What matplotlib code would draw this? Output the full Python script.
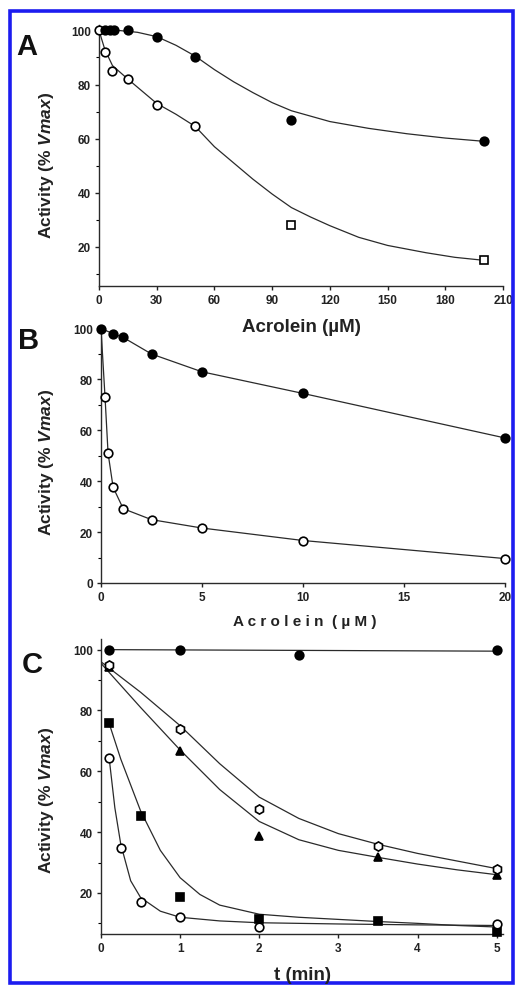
import matplotlib
matplotlib.use('Agg')
import matplotlib.pyplot as plt
from matplotlib.patches import Rectangle
from matplotlib.ticker import MultipleLocator

plt.rcParams['font.family'] = ['Liberation Sans', 'DejaVu Sans']
plt.rcParams['mathtext.fontset'] = 'custom'
plt.rcParams['mathtext.it'] = 'Liberation Sans:italic:bold'
plt.rcParams['mathtext.rm'] = 'Liberation Sans:bold'

# --- panel A: activity vs acrolein (uM) ---
a_fill_x = [3, 5.5, 8, 15, 30, 50, 100, 200]
a_fill_y = [100, 100, 100, 100, 97.7, 90, 67, 59]
a_open_x = [0, 3, 7, 15, 30, 50]
a_open_y = [100, 92, 85, 82, 72.3, 64.6]
a_sq_x = [100, 200]
a_sq_y = [28, 15]
a_fit_fill_x = [0, 10, 20, 30, 40, 50, 60, 70, 80, 90, 100, 120, 140, 160, 180, 200]
a_fit_fill_y = [100, 100, 99.3, 97.7, 94.5, 90.5, 85.5, 81, 77, 73.3, 70.3, 66.3, 63.8, 61.8, 60.2, 59]
a_fit_open_x = [0, 3, 7, 15, 30, 40, 50, 60, 70, 80, 90, 100, 110, 120, 135, 150, 170, 185, 200]
a_fit_open_y = [100, 93, 87, 82, 73, 69, 64.5, 57, 51, 45, 39.5, 34.5, 31, 27.8, 23.5, 20.5, 17.8, 16.1, 15]

# --- panel B: low acrolein range ---
b_fill_x = [0, 0.6, 1.1, 2.5, 5, 10, 20]
b_fill_y = [100, 98, 96.5, 90, 83, 74.5, 57]
b_open_x = [0, 0.2, 0.35, 0.6, 1.1, 2.5, 5, 10, 20]
b_open_y = [100, 73, 51, 37.6, 29.2, 24.9, 21.6, 16.7, 9.6]

# --- panel C: time course (min) ---
c_circ_x = [0.1, 1, 2.5, 5]
c_circ_y = [100, 100, 98.3, 100]
c_hex_x = [0.1, 1, 2, 3.5, 5]
c_hex_y = [95, 74, 47.6, 35.5, 28]
c_tri_x = [0.1, 1, 2, 3.5, 5]
c_tri_y = [94.3, 66.8, 38.6, 31.7, 26]
c_sq_x = [0.1, 0.5, 1, 2, 3.5, 5]
c_sq_y = [75.8, 45.4, 18.6, 11.4, 10.9, 7]
c_open_x = [0.1, 0.25, 0.5, 1, 2, 5]
c_open_y = [64.3, 34.7, 17.1, 12.2, 8.7, 9.8]

c_fit_circ_x = [0.1, 5]
c_fit_circ_y = [100, 99.5]
c_fit_hex_x = [0, 0.5, 1, 1.5, 2, 2.5, 3, 3.5, 4, 4.5, 5]
c_fit_hex_y = [96, 86, 75, 62.5, 51.5, 44.5, 39.5, 36, 33, 30.5, 28]
c_fit_tri_x = [0, 0.5, 1, 1.5, 2, 2.5, 3, 3.5, 4, 4.5, 5]
c_fit_tri_y = [95.5, 81, 67, 54, 43.5, 37.5, 34, 31.7, 29.5, 27.6, 26]
c_fit_sq_x = [0.1, 0.25, 0.5, 0.75, 1, 1.25, 1.5, 2, 2.5, 3, 3.5, 4, 4.5, 5]
c_fit_sq_y = [76, 64, 47, 34, 25, 19.5, 16, 13, 12, 11.3, 10.6, 10, 9.3, 8.8]
c_fit_open_x = [0.1, 0.175, 0.25, 0.375, 0.5, 0.75, 1, 1.5, 2, 3, 4, 5]
c_fit_open_y = [65, 48, 36, 24, 18.5, 14, 12, 10.8, 10.2, 9.8, 9.5, 9.3]

W, H = 515, 987
LC = '#2a2a2a'
TXT = '#222222'
fig = plt.figure(figsize=(W / 100, H / 100), dpi=100)


def px_axes(l, t, r, b):
    return fig.add_axes([l / W, 1 - b / H, (r - l) / W, (b - t) / H])


def style(ax):
    for s in ('top', 'right'):
        ax.spines[s].set_visible(False)
    for s in ('left', 'bottom'):
        ax.spines[s].set_linewidth(1.0)
        ax.spines[s].set_color(LC)
    ax.tick_params(direction='out', length=3.2, width=1.0, pad=2.5,
                   labelsize=8.5, colors=TXT)
    ax.tick_params(which='minor', length=2, width=0.8)
    ax.yaxis.set_minor_locator(MultipleLocator(10))
    for lab in ax.get_xticklabels() + ax.get_yticklabels():
        lab.set_fontweight('bold')


def pts(ax, x, y, marker, filled, ms=6.2):
    ax.plot(x, y, linestyle='none', marker=marker, ms=ms,
            mfc='black' if filled else 'white', mec='black', mew=1.2,
            zorder=3, clip_on=False)


# panel A
axA = px_axes(99, 26, 503, 287)
axA.plot(a_fit_open_x, a_fit_open_y, color=LC, lw=0.9)
axA.plot(a_fit_fill_x, a_fit_fill_y, color=LC, lw=0.9)
pts(axA, a_open_x, a_open_y, 'o', False)
pts(axA, a_sq_x, a_sq_y, 's', False, ms=5.8)
pts(axA, a_fill_x, a_fill_y, 'o', True)
axA.set_xlim(0, 210)
axA.set_ylim(5.5, 102)
axA.set_xticks(range(0, 211, 30))
axA.set_yticks([20, 40, 60, 80, 100])
style(axA)

# panel B
axB = px_axes(101, 327, 505, 584)
axB.plot(b_open_x, b_open_y, color=LC, lw=0.9)
axB.plot(b_fill_x, b_fill_y, color=LC, lw=0.9)
pts(axB, b_open_x[1:], b_open_y[1:], 'o', False)
pts(axB, b_fill_x, b_fill_y, 'o', True)
axB.set_xlim(0, 20)
axB.set_ylim(0, 101)
axB.set_xticks([0, 5, 10, 15, 20])
axB.set_yticks([0, 20, 40, 60, 80, 100])
style(axB)

# panel C
axC = px_axes(101, 640, 503, 935)
axC.plot(c_fit_circ_x, c_fit_circ_y, color=LC, lw=0.9)
axC.plot(c_fit_hex_x, c_fit_hex_y, color=LC, lw=0.9)
axC.plot(c_fit_tri_x, c_fit_tri_y, color=LC, lw=0.9)
axC.plot(c_fit_sq_x, c_fit_sq_y, color=LC, lw=0.9)
axC.plot(c_fit_open_x, c_fit_open_y, color=LC, lw=0.9)
pts(axC, c_circ_x, c_circ_y, 'o', True)
pts(axC, c_tri_x, c_tri_y, '^', True)
pts(axC, c_hex_x, c_hex_y, 'h', False, ms=6.6)
pts(axC, c_sq_x, c_sq_y, 's', True, ms=5.8)
pts(axC, c_open_x, c_open_y, 'o', False)
axC.set_xlim(0, 5.08)
axC.set_ylim(6.5, 103.5)
axC.set_xticks([0, 1, 2, 3, 4, 5])
axC.set_yticks([20, 40, 60, 80, 100])
style(axC)

# axis labels and panel letters
ylab = r'Activity (% $\mathit{Vmax}$)'
for yc in (165, 462, 800):
    fig.text(47 / W, 1 - yc / H, ylab, rotation=90, ha='center', va='center',
             fontsize=12.5, fontweight='bold', color=TXT)
fig.text(301 / W, 1 - 328 / H, 'Acrolein (µM)', ha='center', va='center',
         fontsize=13.5, fontweight='bold', color=TXT)
fig.text(305 / W, 1 - 622 / H, 'A c r o l e i n  ( µ M )', ha='center',
         va='center', fontsize=11, fontweight='bold', color=TXT)
fig.text(302 / W, 1 - 976 / H, 't (min)', ha='center', va='center',
         fontsize=13.5, fontweight='bold', color=TXT)
for letter, (lx, ly) in zip('ABC', [(27, 47), (29, 341), (32, 665)]):
    fig.text(lx / W, 1 - ly / H, letter, ha='center', va='center',
             fontsize=21, fontweight='bold', color='#111111')

# blue frame around the figure
fig.patches.append(Rectangle((10 / W, 1 - 984 / H), 503 / W, 972 / H,
                             transform=fig.transFigure, fill=False,
                             edgecolor='#1c1cf0', linewidth=2.6))

fig.savefig('out.png', dpi=100)
